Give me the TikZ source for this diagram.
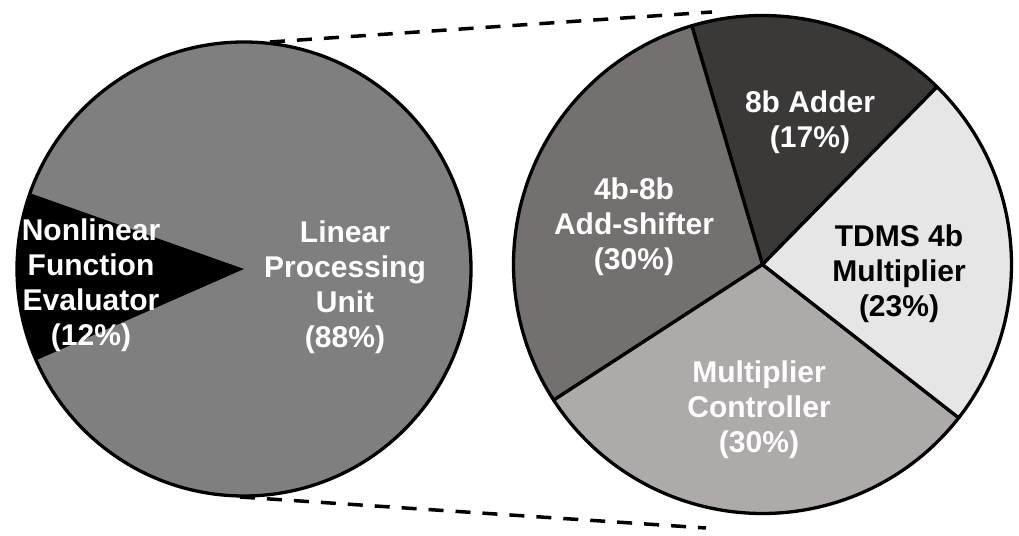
\documentclass[tikz,border=0pt]{standalone}
\usepackage{fontspec}
\setmainfont{Liberation Sans}
\definecolor{lpugray}{HTML}{7F7F7F}
\definecolor{addergray}{HTML}{3B3838}
\definecolor{shiftgray}{HTML}{757070}
\definecolor{ctrlgray}{HTML}{AEAAAA}
\definecolor{tdmsgray}{HTML}{E7E6E6}
\begin{document}
\begin{tikzpicture}[x=1pt,y=1pt,
  slice/.style={draw=black,line width=3.3pt,line join=round},
  lbl/.style={text=white,font=\bfseries\fontsize{30}{35}\selectfont,align=center,inner sep=0pt},
  zoomline/.style={line width=3.5pt,dash pattern=on 15pt off 12pt}]

\useasboundingbox (0,0) rectangle (1019,535);

% Left pie
\coordinate (L) at (244,266);
\fill[lpugray] (L) circle[radius=227pt];
\fill[black] (L) -- ++(160.5:227pt) arc[start angle=160.5,end angle=203.7,radius=227pt] -- cycle;
\draw[line width=3.3pt] (L) circle[radius=227pt];

% Right pie
\coordinate (R) at (762.5,270.5);
\draw[slice,fill=addergray] (R) -- ++(45.5:249pt) arc[start angle=45.5,end angle=106.5,radius=249pt] -- cycle;
\draw[slice,fill=shiftgray] (R) -- ++(106.5:249pt) arc[start angle=106.5,end angle=213,radius=249pt] -- cycle;
\draw[slice,fill=ctrlgray] (R) -- ++(213:249pt) arc[start angle=213,end angle=322,radius=249pt] -- cycle;
\draw[slice,fill=tdmsgray] (R) -- ++(322:249pt) arc[start angle=322,end angle=405.5,radius=249pt] -- cycle;

% Zoom lines
\coordinate (topL) at (270,493);
\coordinate (topR) at (712,523);
\coordinate (botL) at (240,38);
\coordinate (botR) at (706,7);
\draw[zoomline] (topL) -- (topR);
\draw[zoomline] (botL) -- (botR);

% Labels
\node[lbl] (nfe) at (91,250) {Nonlinear\\Function\\Evaluator\\(12\%)};
\node[lbl] (lpu) at (345,248) {Linear\\Processing\\Unit\\(88\%)};
\node[lbl] (adder) at (810,413) {8b Adder\\(17\%)};
\node[lbl] (shifter) at (634,308) {4b-8b\\Add-shifter\\(30\%)};
\node[lbl,text=black] (tdms) at (899,261) {TDMS 4b\\Multiplier\\(23\%)};
\node[lbl] (ctrl) at (759,125) {Multiplier\\Controller\\(30\%)};

\end{tikzpicture}
\end{document}
